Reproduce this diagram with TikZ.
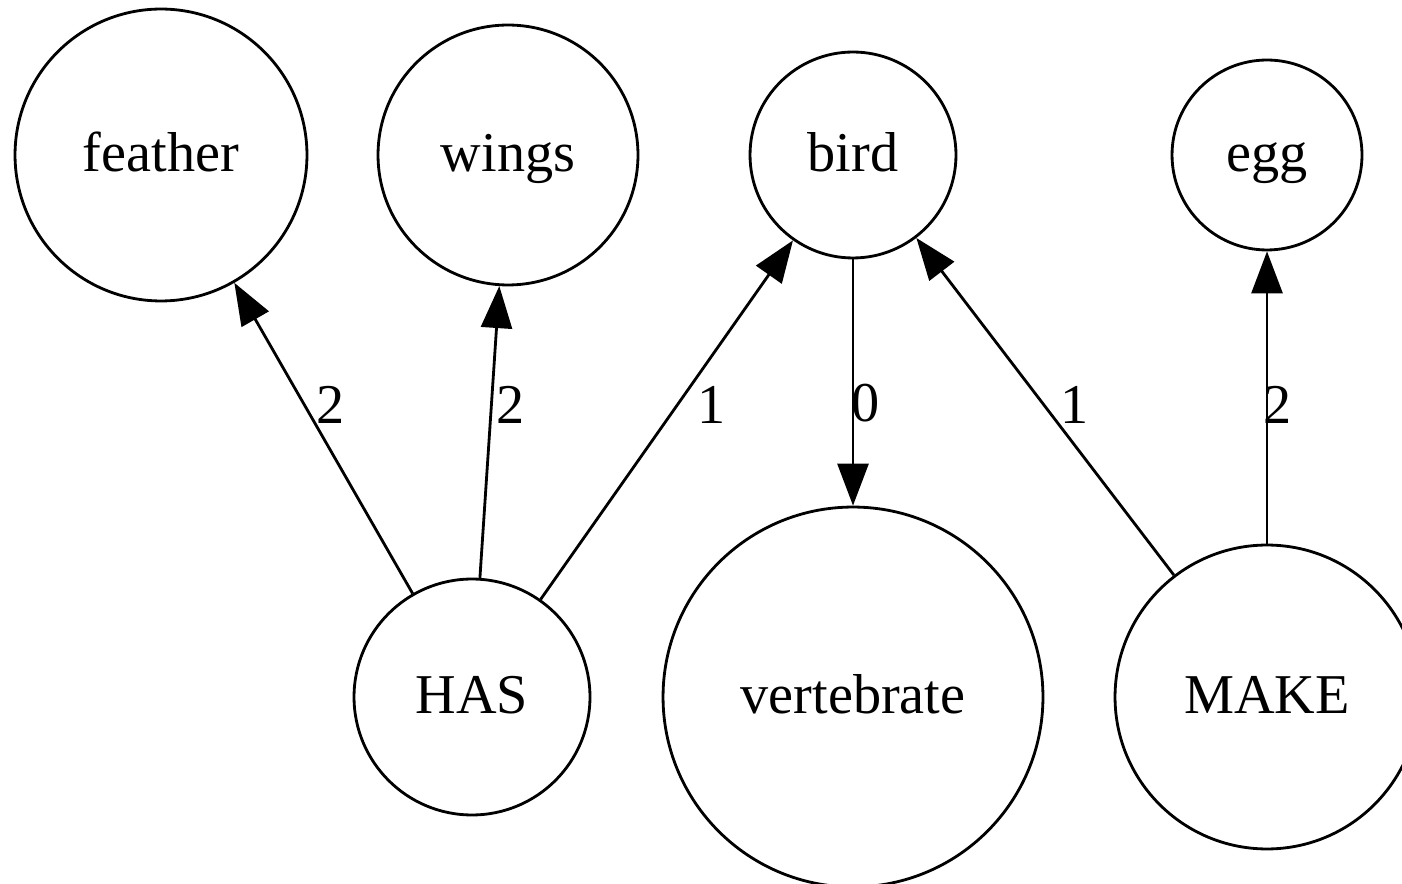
\documentclass[tikz,border=0pt]{standalone}
\usepackage{fontspec}
\setmainfont{Liberation Serif}
\usetikzlibrary{arrows.meta}

\tikzset{
  concept/.style={shape=circle, draw=black, line width=1.6pt, inner sep=0pt, text height=26pt, text depth=6.7pt, font=\fontsize{32}{38}\selectfont},
  weight/.style={font=\fontsize{32}{38}\selectfont, inner sep=0pt},
  link/.style={-{Triangle[length=0.84cm, width=0.62cm]}, line width=1.6pt}
}

\begin{document}
\begin{tikzpicture}[x=0.02cm, y=-0.02cm]
    \useasboundingbox (0,0) rectangle (1402,884);
    % top row
    \node[concept, minimum size=5.84cm] (feather) at (161,155) {feather};
    \node[concept, minimum size=5.2cm] (wings) at (508,155) {wings};
    \node[concept, minimum size=4.12cm] (bird) at (853,155) {bird};
    \node[concept, minimum size=3.8cm] (egg) at (1267,155) {egg};
    % bottom row
    \node[concept, minimum size=4.72cm] (has) at (472,697) {HAS};
    \node[concept, minimum size=7.6cm] (vertebrate) at (853,697) {vertebrate};
    \node[concept, minimum size=6.08cm] (make) at (1267,697) {MAKE};

    \path [link](has) edge node[weight, pos=0.607, xshift=0.52cm] {2} (feather);
    \path [link](has) edge node[weight, pos=0.592, xshift=0.38cm] {2} (wings);
    \path [link](has) edge node[weight, pos=0.541, xshift=0.68cm] {1} (bird);
    \path [link](bird) edge node[weight, pos=0.584, xshift=0.26cm] {0} (vertebrate);
    \path [link](make) edge node[weight, pos=0.505, xshift=0.62cm] {1} (bird);
    \path [link](make) edge node[weight, pos=0.475, xshift=0.22cm] {2} (egg);
\end{tikzpicture}
\end{document}
